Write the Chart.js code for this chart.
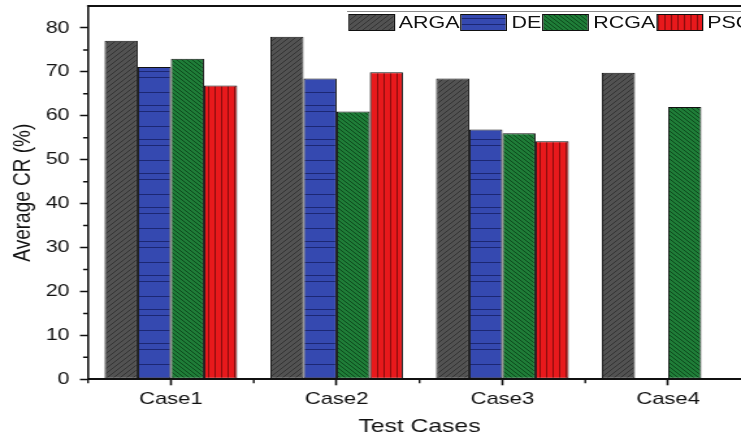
<!DOCTYPE html>
<html>
<head>
<meta charset="utf-8">
<script src="https://cdn.jsdelivr.net/npm/chart.js@4.4.1/dist/chart.umd.min.js"></script>
<style>
  html, body { margin: 0; padding: 0; background: #fff; overflow: hidden; }
  /* the reference figure is stretched sideways, so the whole canvas is too */
  #wrap { position: relative; width: 590px; height: 440px; transform: scaleX(1.3); transform-origin: 0 0; }
  #legend {
    position: absolute;
    display: flex;
    white-space: nowrap;
    border-top: 1px solid #8a8a8a;
    padding: 2px 0 0 1px;
    font: 16.5px "Liberation Sans", Arial, sans-serif;
    color: #111;
    line-height: 17px;
  }
  #legend .item { display: flex; align-items: center; margin-right: 1px; }
  #legend .swatch { width: 34px; height: 15px; border: 1px solid #111; margin-right: 3px; }
</style>
</head>
<body>
<div id="wrap">
  <canvas id="cr-chart" width="590" height="440"></canvas>
  <div id="legend"></div>
</div>
<script>
const cases = ['Case1', 'Case2', 'Case3', 'Case4'];
const argaCR = [77.1, 78.0, 68.5, 69.8];
const deCR = [71.1, 68.5, 56.9, null];
const rcgaCR = [73.0, 61.0, 56.0, 62.0];
const psoCR = [66.9, 69.9, 54.2, null];
const yMinorTicks = [5, 15, 25, 35, 45, 55, 65, 75];

const ctx = document.getElementById('cr-chart').getContext('2d');

// little tiles used as hatch fills for the bars (and the legend swatches)
function hatchTile(bg, fg, w, h, draw) {
  const c = document.createElement('canvas');
  c.width = w;
  c.height = h;
  const g = c.getContext('2d');
  g.fillStyle = bg;
  g.fillRect(0, 0, w, h);
  g.strokeStyle = fg;
  g.lineWidth = 1;
  g.beginPath();
  draw(g, w, h);
  g.stroke();
  return c;
}

let forwardSlash = function(g, w, h){
  g.moveTo(-1, h + 1); g.lineTo(w + 1, -1);
  g.moveTo(-1, 1); g.lineTo(1, -1);
  g.moveTo(w - 1, h + 1); g.lineTo(w + 1, h - 1);
};
let backSlash = function(g, w, h){
  g.moveTo(-1, -1); g.lineTo(w + 1, h + 1);
  g.moveTo(w - 1, -1); g.lineTo(w + 1, 1);
  g.moveTo(-1, h - 1); g.lineTo(1, h + 1);
};

const tiles = [
  hatchTile('#525252', '#343434', 5, 5, forwardSlash),
  hatchTile('#3549b0', '#1c2773', 10, 34, function(g, w){
    g.moveTo(0, 3.5); g.lineTo(w, 3.5);
    g.moveTo(0, 9.5); g.lineTo(w, 9.5);
    g.moveTo(0, 24.5); g.lineTo(w, 24.5);
  }),
  hatchTile('#1f7d38', '#0d4a1c', 4, 4, backSlash),
  hatchTile('#e8191c', '#8a0c0c', 5, 10, function(g, w, h){
    g.moveTo(0.5, 0); g.lineTo(0.5, h);
  })
];
const fills = tiles.map(function(t){ return ctx.createPattern(t, 'repeat'); });

// top frame line plus the short minor ticks on both axes
const frameTicks = {
  id: 'frameTicks',
  afterDraw(chart) {
    const area = chart.chartArea;
    const x = chart.scales.x;
    const y = chart.scales.y;
    const c = chart.ctx;
    c.save();
    c.strokeStyle = '#111';
    c.lineWidth = 2;
    c.beginPath();
    c.moveTo(area.left - 0.8, area.top);
    c.lineTo(area.right, area.top);
    c.stroke();
    c.lineWidth = 1.5;
    c.beginPath();
    yMinorTicks.forEach(function(v){
      const py = y.getPixelForValue(v);
      c.moveTo(area.left - 3.8, py);
      c.lineTo(area.left, py);
    });
    c.stroke();
    c.lineWidth = 1.4;
    c.beginPath();
    for (let i = 0; i <= cases.length; i++) {
      const px = x.getPixelForValue(i - 0.5);
      c.moveTo(px, area.bottom);
      c.lineTo(px, area.bottom + 4);
    }
    c.stroke();
    c.restore();
  }
};

// legend laid over the top right corner of the plot, built from the datasets
const htmlLegend = {
  id: 'htmlLegend',
  afterUpdate(chart) {
    const box = document.getElementById('legend');
    box.innerHTML = '';
    chart.data.datasets.forEach(function(ds, i){
      const item = document.createElement('span');
      item.className = 'item';
      const swatch = document.createElement('span');
      swatch.className = 'swatch';
      swatch.style.backgroundImage = 'url(' + tiles[i].toDataURL() + ')';
      const text = document.createElement('span');
      text.textContent = ds.label;
      item.appendChild(swatch);
      item.appendChild(text);
      box.appendChild(item);
    });
    box.style.top = (chart.chartArea.top + 5) + 'px';
    box.style.left = (chart.chartArea.right - 311) + 'px';
  }
};

Chart.defaults.font.family = '"Liberation Sans", Arial, sans-serif';
Chart.defaults.color = '#111';

const barStyle = {
  borderColor: '#111',
  borderWidth: 1,
  borderSkipped: false,
  categoryPercentage: 0.8,
  barPercentage: 1
};

new Chart(ctx, {
  type: 'bar',
  data: {
    labels: cases,
    datasets: [
      Object.assign({ label: 'ARGA', data: argaCR, backgroundColor: fills[0] }, barStyle),
      Object.assign({ label: 'DE', data: deCR, backgroundColor: fills[1] }, barStyle),
      Object.assign({ label: 'RCGA', data: rcgaCR, backgroundColor: fills[2] }, barStyle),
      Object.assign({ label: 'PSO', data: psoCR, backgroundColor: fills[3] }, barStyle)
    ]
  },
  options: {
    responsive: false,
    animation: false,
    layout: { padding: { top: 6, right: 12.3, bottom: 0, left: 0 } },
    plugins: {
      tooltip: { enabled: false },
      legend: { display: false }
    },
    scales: {
      x: {
        grid: { drawOnChartArea: false, offset: false, tickLength: 6, tickWidth: 1.6, tickColor: '#111' },
        border: { color: '#111', width: 2 },
        ticks: { font: { size: 17 }, padding: 4, color: '#111' },
        title: { display: true, text: 'Test Cases', font: { size: 19 }, padding: { top: 0, bottom: 2 }, color: '#111' },
        afterFit: function(scale){
          scale.height = 60.7;
          scale.paddingLeft = 0;
          scale.paddingRight = 0;
        }
      },
      y: {
        min: 0,
        max: 85,
        grid: { drawOnChartArea: false, tickLength: 6.2, tickWidth: 1.5, tickColor: '#111' },
        border: { color: '#111', width: 1.6 },
        ticks: { stepSize: 10, includeBounds: false, font: { size: 16.5 }, padding: 8, color: '#111' },
        title: { display: true, text: 'Average CR (%)', font: { size: 19 }, padding: { top: 6.3, bottom: 0 }, color: '#111' },
        afterFit: function(scale){
          scale.width = 67.7;
          scale.paddingTop = 0;
          scale.paddingBottom = 0;
        }
      }
    }
  },
  plugins: [frameTicks, htmlLegend]
});
</script>
</body>
</html>
